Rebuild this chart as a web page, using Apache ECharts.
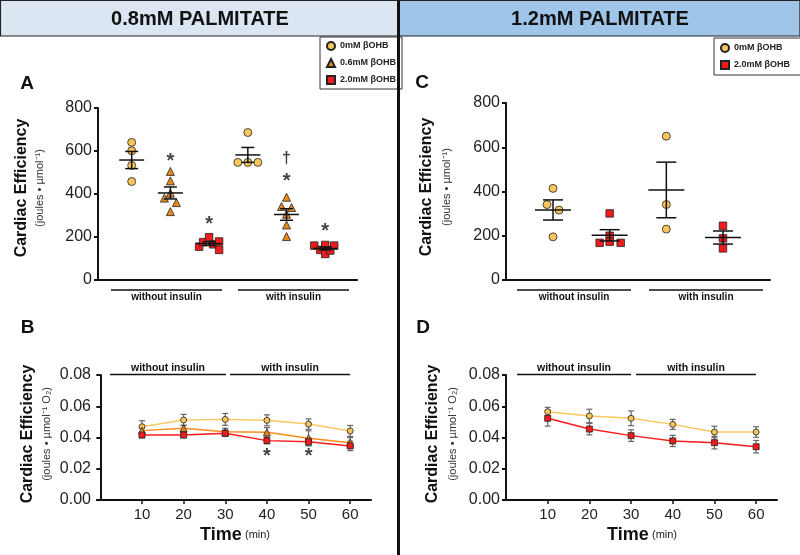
<!DOCTYPE html>
<html>
<head>
<meta charset="utf-8">
<script src="https://cdn.jsdelivr.net/npm/echarts@6/dist/echarts.min.js"></script>
<style>html,body{margin:0;padding:0;background:#fff}#c{width:800px;height:555px}</style>
</head>
<body>
<div id="c"></div>
<script>
// ---------- DATA ----------
const doses3 = ['0mM βOHB', '0.6mM βOHB', '2.0mM βOHB'];
const conditions = ['without insulin', 'with insulin'];
const panelTitles = ['0.8mM PALMITATE', '1.2mM PALMITATE'];
const yTicksA = [0, 200, 400, 600, 800];
const yTicksB = [0, 0.02, 0.04, 0.06, 0.08];
const timeMin = [10, 20, 30, 40, 50, 60];

// Panel A (0.8mM palmitate), individual hearts, joules/umol
const A_0mM_without = [640, 601, 533, 458];
const A_06_without = [505, 461, 404, 381, 360, 318];
const A_20_without = [155, 176, 199, 166, 179, 140];
const A_0mM_with = [686, 547, 547, 547];
const A_06_with = [385, 342, 337, 306, 256, 202];
const A_20_with = [160, 140, 163, 121, 137, 160];
// significance marks (group index, value)
const A_stars = [[2, 572], [3, 279], [5, 479], [6, 242]];
const A_daggers = [[5, 572]];

// Panel C (1.2mM palmitate)
const C_0mM_without = [341, 414, 316, 195];
const C_20_without = [301, 200, 168, 173, 168];
const C_0mM_with = [650, 341, 230];
const C_20_with = [245, 188, 143];

// Panel B (0.8mM) time course, mean and SEM
const B_0mM = [0.0469, 0.0512, 0.0516, 0.0510, 0.0486, 0.0442];
const B_0mM_sem = [0.0038, 0.0036, 0.0038, 0.0035, 0.0033, 0.0035];
const B_06 = [0.0444, 0.0459, 0.0437, 0.0433, 0.0395, 0.0367];
const B_06_sem = [0.0020, 0.0020, 0.0022, 0.0030, 0.0048, 0.0032];
const B_20 = [0.0416, 0.0416, 0.0427, 0.0380, 0.0373, 0.0346];
const B_20_sem = [0.0018, 0.0018, 0.0020, 0.0020, 0.0025, 0.0030];
const B_stars = [[40, 0.0301], [50, 0.0301]];

// Panel D (1.2mM) time course
const D_0mM = [0.0565, 0.0538, 0.0523, 0.0484, 0.0435, 0.0435];
const D_0mM_sem = [0.0028, 0.0043, 0.0047, 0.0032, 0.0037, 0.0034];
const D_20 = [0.0523, 0.0454, 0.0412, 0.0378, 0.0367, 0.0341];
const D_20_sem = [0.0050, 0.0037, 0.0037, 0.0036, 0.0040, 0.0040];

// ---------- STYLE / LAYOUT ----------
const FONT = 'Liberation Sans, Arial, sans-serif';
const col0 = '#f8c55c', col06 = '#e8891c', col20 = '#ee1c1c';
const line0 = '#ffc760', line06 = '#ff8c1a', line20 = '#ff1a1a';
const jit = {
  A0w: [0, 0, 0, 0], A06w: [0, 0, 0, -6, 6, 0], A20w: [-10, -6, 0, 4, 10, 10],
  A0i: [0, -10, 0, 10], A06i: [0, -5, 5, 0, 0, 0], A20i: [-11, -5, 0, 0, 5, 9],
  C0w: [-6, 0, 6, 0], C20w: [0, 0, -10, 0, 11], C0i: [0, 0, 0], C20i: [0, 0, 0]
};

function pts(vals, g, j) { return vals.map((v, i) => ({ value: [g, v], symbolOffset: [j[i], 0] })); }
function mean(a) { return a.reduce((s, v) => s + v, 0) / a.length; }
function sem(a) { const m = mean(a); const sd = Math.sqrt(a.reduce((s, v) => s + (v - m) * (v - m), 0) / (a.length - 1)); return sd / Math.sqrt(a.length); }

function meanSemSeries(groups, xi, yi, halfW, capW) {
  return {
    type: 'custom', xAxisIndex: xi, yAxisIndex: yi, z: 5, silent: true,
    data: groups.map(([g, a]) => [g, mean(a), mean(a) - sem(a), mean(a) + sem(a)]),
    renderItem: function (params, api) {
      const m = api.coord([api.value(0), api.value(1)]);
      const lo = api.coord([api.value(0), api.value(2)]);
      const hi = api.coord([api.value(0), api.value(3)]);
      const st = { stroke: '#111', lineWidth: 1.5 };
      return { type: 'group', children: [
        { type: 'line', shape: { x1: m[0] - halfW, y1: m[1], x2: m[0] + halfW, y2: m[1] }, style: st },
        { type: 'line', shape: { x1: lo[0], y1: lo[1], x2: hi[0], y2: hi[1] }, style: st },
        { type: 'line', shape: { x1: lo[0] - capW, y1: lo[1], x2: lo[0] + capW, y2: lo[1] }, style: st },
        { type: 'line', shape: { x1: hi[0] - capW, y1: hi[1], x2: hi[0] + capW, y2: hi[1] }, style: st }
      ] };
    }
  };
}
function errSeries(xs, ys, es, xi, yi) {
  return {
    type: 'custom', xAxisIndex: xi, yAxisIndex: yi, z: 1, silent: true,
    data: xs.map((x, i) => [x, ys[i] - es[i], ys[i] + es[i]]),
    renderItem: function (params, api) {
      const lo = api.coord([api.value(0), api.value(1)]);
      const hi = api.coord([api.value(0), api.value(2)]);
      const st = { stroke: '#666', lineWidth: 1.2 };
      const c = 3;
      return { type: 'group', children: [
        { type: 'line', shape: { x1: lo[0], y1: lo[1], x2: hi[0], y2: hi[1] }, style: st },
        { type: 'line', shape: { x1: lo[0] - c, y1: lo[1], x2: lo[0] + c, y2: lo[1] }, style: st },
        { type: 'line', shape: { x1: hi[0] - c, y1: hi[1], x2: hi[0] + c, y2: hi[1] }, style: st }
      ] };
    }
  };
}
function markSeries(data, txt, xi, yi, size, dy) {
  return {
    type: 'scatter', xAxisIndex: xi, yAxisIndex: yi, symbolSize: 0, silent: true, z: 6,
    data: data,
    label: { show: true, position: 'inside', formatter: txt, fontSize: size, fontWeight: 'bold', color: '#111', fontFamily: FONT, offset: [0, dy] }
  };
}
const mk = (c) => ({ color: c, borderColor: '#222', borderWidth: 0.8, opacity: 1 });

const yAxisBase = {
  type: 'value', splitLine: { show: false },
  axisLine: { show: true, lineStyle: { color: '#111', width: 2 } },
  axisTick: { show: true, length: 4, lineStyle: { color: '#111', width: 2 } },
  axisLabel: { fontSize: 16, color: '#222', fontFamily: FONT, margin: 6 }
};
const xAxisPlain = {
  type: 'value', splitLine: { show: false },
  axisLine: { show: true, onZero: false, lineStyle: { color: '#111', width: 2 } },
  axisTick: { show: false }, axisLabel: { show: false }
};
const xAxisTime = {
  type: 'value', splitLine: { show: false }, min: -0.8, max: 65,
  axisLine: { show: true, onZero: false, lineStyle: { color: '#111', width: 2 } },
  axisTick: { show: true, length: 4, customValues: timeMin, lineStyle: { color: '#111', width: 1.5 } },
  axisLabel: { show: true, customValues: timeMin, fontSize: 15, color: '#222', fontFamily: FONT, margin: 7 }
};

const option = {
  animation: false,
  backgroundColor: '#fff',
  grid: [
    { left: 98, top: 108, width: 259, height: 172 },  // A
    { left: 97, top: 375, width: 274, height: 125 },  // B
    { left: 506, top: 103, width: 264, height: 177 }, // C
    { left: 506, top: 375, width: 271, height: 125 }  // D
  ],
  xAxis: [
    Object.assign({}, xAxisPlain, { gridIndex: 0, min: 0.13, max: 6.82 }),
    Object.assign({}, xAxisTime, { gridIndex: 1 }),
    Object.assign({}, xAxisPlain, { gridIndex: 2, min: 0.17, max: 4.83 }),
    Object.assign({}, xAxisTime, { gridIndex: 3, min: 0 })
  ],
  yAxis: [
    Object.assign({}, yAxisBase, { gridIndex: 0, min: yTicksA[0], max: yTicksA[4], interval: 200 }),
    Object.assign({}, yAxisBase, { gridIndex: 1, min: yTicksB[0], max: yTicksB[4], interval: 0.02,
      axisLabel: Object.assign({}, yAxisBase.axisLabel, { formatter: v => v.toFixed(2) }) }),
    Object.assign({}, yAxisBase, { gridIndex: 2, min: yTicksA[0], max: yTicksA[4], interval: 200 }),
    Object.assign({}, yAxisBase, { gridIndex: 3, min: yTicksB[0], max: yTicksB[4], interval: 0.02,
      axisLabel: Object.assign({}, yAxisBase.axisLabel, { formatter: v => v.toFixed(2) }) })
  ],
  legend: [
    { data: [{ name: doses3[0], icon: 'circle' }, { name: doses3[1], icon: 'triangle' }, { name: doses3[2], icon: 'rect' }],
      orient: 'vertical', left: 320, top: 37, itemWidth: 8, itemHeight: 8, itemGap: 7,
      padding: [4, 6, 4, 6], borderColor: '#333', borderWidth: 1, backgroundColor: '#fff', selectedMode: false,
      textStyle: { fontSize: 9, fontWeight: 'bold', fontFamily: FONT, color: '#222' } },
    { data: [{ name: doses3[0], icon: 'circle' }, { name: doses3[2], icon: 'rect' }],
      orient: 'vertical', left: 714, top: 38, itemWidth: 8, itemHeight: 8, itemGap: 7,
      padding: [5, 30, 5, 6], borderColor: '#333', borderWidth: 1, backgroundColor: '#fff', selectedMode: false,
      textStyle: { fontSize: 9, fontWeight: 'bold', fontFamily: FONT, color: '#222' } }
  ],
  series: [
    // Panel A scatter
    { name: doses3[0], type: 'scatter', xAxisIndex: 0, yAxisIndex: 0, symbol: 'circle', symbolSize: 8, itemStyle: mk(col0), z: 3,
      data: pts(A_0mM_without, 1, jit.A0w).concat(pts(A_0mM_with, 4, jit.A0i)) },
    { name: doses3[1], type: 'scatter', xAxisIndex: 0, yAxisIndex: 0, symbol: 'triangle', symbolSize: 8, itemStyle: mk(col06), z: 3,
      data: pts(A_06_without, 2, jit.A06w).concat(pts(A_06_with, 5, jit.A06i)) },
    { name: doses3[2], type: 'scatter', xAxisIndex: 0, yAxisIndex: 0, symbol: 'rect', symbolSize: 7.5, itemStyle: mk(col20), z: 3,
      data: pts(A_20_without, 3, jit.A20w).concat(pts(A_20_with, 6, jit.A20i)) },
    meanSemSeries([[1, A_0mM_without], [2, A_06_without], [3, A_20_without], [4, A_0mM_with], [5, A_06_with], [6, A_20_with]], 0, 0, 12.5, 6.5),
    markSeries(A_stars, '*', 0, 0, 20, 4),
    markSeries(A_daggers, '†', 0, 0, 16, 2),
    // Panel C scatter
    { name: doses3[0], type: 'scatter', xAxisIndex: 2, yAxisIndex: 2, symbol: 'circle', symbolSize: 8, itemStyle: mk(col0), z: 3,
      data: pts(C_0mM_without, 1, jit.C0w).concat(pts(C_0mM_with, 3, jit.C0i)) },
    { name: doses3[2], type: 'scatter', xAxisIndex: 2, yAxisIndex: 2, symbol: 'rect', symbolSize: 7.5, itemStyle: mk(col20), z: 3,
      data: pts(C_20_without, 2, jit.C20w).concat(pts(C_20_with, 4, jit.C20i)) },
    meanSemSeries([[1, C_0mM_without], [2, C_20_without], [3, C_0mM_with], [4, C_20_with]], 2, 2, 18, 10),
    // Panel B
    errSeries(timeMin, B_0mM, B_0mM_sem, 1, 1),
    errSeries(timeMin, B_06, B_06_sem, 1, 1),
    errSeries(timeMin, B_20, B_20_sem, 1, 1),
    { name: 'B0', type: 'line', xAxisIndex: 1, yAxisIndex: 1, symbol: 'circle', symbolSize: 6, z: 2,
      lineStyle: { color: line0, width: 1.5 }, itemStyle: mk(col0), data: timeMin.map((t, i) => [t, B_0mM[i]]) },
    { name: 'B06', type: 'line', xAxisIndex: 1, yAxisIndex: 1, symbol: 'triangle', symbolSize: 7, z: 3,
      lineStyle: { color: line06, width: 1.5 }, itemStyle: mk(col06), data: timeMin.map((t, i) => [t, B_06[i]]) },
    { name: 'B20', type: 'line', xAxisIndex: 1, yAxisIndex: 1, symbol: 'rect', symbolSize: 6, z: 4,
      lineStyle: { color: line20, width: 1.5 }, itemStyle: mk(col20), data: timeMin.map((t, i) => [t, B_20[i]]) },
    markSeries(B_stars, '*', 1, 1, 20, 4),
    // Panel D
    errSeries(timeMin, D_0mM, D_0mM_sem, 3, 3),
    errSeries(timeMin, D_20, D_20_sem, 3, 3),
    { name: 'D0', type: 'line', xAxisIndex: 3, yAxisIndex: 3, symbol: 'circle', symbolSize: 6, z: 2,
      lineStyle: { color: line0, width: 1.5 }, itemStyle: mk(col0), data: timeMin.map((t, i) => [t, D_0mM[i]]) },
    { name: 'D20', type: 'line', xAxisIndex: 3, yAxisIndex: 3, symbol: 'rect', symbolSize: 6, z: 4,
      lineStyle: { color: line20, width: 1.5 }, itemStyle: mk(col20), data: timeMin.map((t, i) => [t, D_20[i]]) }
  ],
  graphic: []
};

// ----- decorations -----
const G = option.graphic;
G.push({ type: 'rect', shape: { x: 0.5, y: 0.5, width: 398, height: 35.5 }, style: { fill: '#dce6f2', stroke: '#222', lineWidth: 1.2 }, z: 0 });
G.push({ type: 'rect', shape: { x: 399, y: 0.5, width: 401, height: 35.5 }, style: { fill: '#9fc5e8', stroke: '#222', lineWidth: 1.2 }, z: 0 });
G.push({ type: 'line', shape: { x1: 398.5, y1: 0, x2: 398.5, y2: 555 }, style: { stroke: '#111', lineWidth: 3 }, z: 10 });
G.push({ type: 'text', x: 200, y: 19, style: { text: panelTitles[0], font: 'bold 20px ' + FONT, fill: '#111', align: 'center', verticalAlign: 'middle' }, z: 10 });
G.push({ type: 'text', x: 600, y: 19, style: { text: panelTitles[1], font: 'bold 20px ' + FONT, fill: '#111', align: 'center', verticalAlign: 'middle' }, z: 10 });
// panel letters
[['A', 27, 84], ['B', 27.5, 328], ['C', 422, 83], ['D', 423, 328]].forEach(([t, x, y]) =>
  G.push({ type: 'text', x: x, y: y, style: { text: t, font: 'bold 19px ' + FONT, fill: '#111', align: 'center', verticalAlign: 'middle' } }));
// y titles
function yTitle(x1, x2, y, sub) {
  G.push({ type: 'text', x: x1, y: y, rotation: Math.PI / 2, style: { text: 'Cardiac Efficiency', font: 'bold 16px ' + FONT, fill: '#111', align: 'center', verticalAlign: 'middle' } });
  G.push({ type: 'text', x: x2, y: y, rotation: Math.PI / 2, style: { text: sub, font: '11px ' + FONT, fill: '#333', align: 'center', verticalAlign: 'middle' } });
}
yTitle(22, 40, 188, '(joules • µmol⁻¹)');
yTitle(427, 447, 187, '(joules • µmol⁻¹)');
yTitle(28, 47, 434, '(joules • µmol⁻¹ O₂)');
yTitle(433, 453, 434, '(joules • µmol⁻¹ O₂)');
// group brackets
function bracket(x1, x2, y, ty, label, fs) {
  G.push({ type: 'line', shape: { x1: x1, y1: y, x2: x2, y2: y }, style: { stroke: '#111', lineWidth: 1.5 } });
  G.push({ type: 'text', x: (x1 + x2) / 2, y: ty, style: { text: label, font: 'bold ' + fs + 'px ' + FONT, fill: '#111', align: 'center', verticalAlign: 'middle' } });
}
bracket(111, 222, 290, 297, conditions[0], 10);
bracket(238, 349, 290, 297, conditions[1], 10);
bracket(517, 631, 290, 297, conditions[0], 10);
bracket(649, 763, 290, 297, conditions[1], 10);
bracket(110, 226, 374.5, 368, conditions[0], 10.5);
bracket(230, 350, 374.5, 368, conditions[1], 10.5);
bracket(517, 631, 374.5, 368, conditions[0], 10.5);
bracket(636, 756, 374.5, 368, conditions[1], 10.5);
// time axis titles
[235, 642].forEach(cx => G.push({ type: 'text', x: cx, y: 535, style: {
  text: '{a|Time} {b|(min)}', align: 'center', verticalAlign: 'middle',
  rich: { a: { font: 'bold 18px ' + FONT, fill: '#111' }, b: { font: '11px ' + FONT, fill: '#222' } } } }));

const chart = echarts.init(document.getElementById('c'), null, { renderer: 'canvas' });
chart.setOption(option);
</script>
</body>
</html>
